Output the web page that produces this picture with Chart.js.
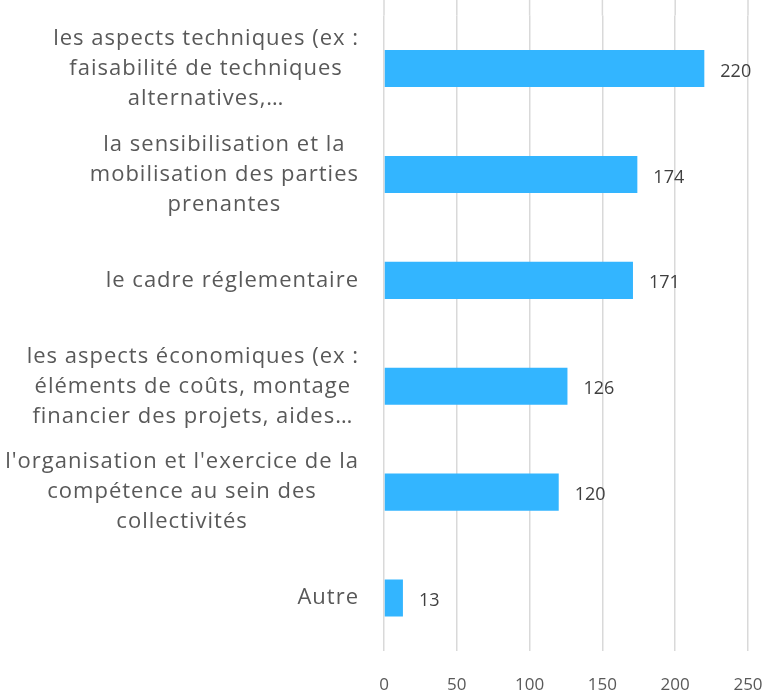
<!DOCTYPE html>
<html lang="fr">
<head>
    <meta charset="UTF-8">
    <title>Besoins</title>
    <script src="https://cdn.jsdelivr.net/npm/chart.js"></script>
    <style>
        html, body { margin: 0; padding: 0; background: #fff; }
        #wrap { width: 768px; height: 693px; }
    </style>
</head>
<body>
<div id="wrap"><canvas id="barChart" width="768" height="693"></canvas></div>
<script>
    // données
    const categories = [
        ["les aspects techniques (ex :", "faisabilité de techniques", "alternatives,…"],
        ["la sensibilisation et la", "mobilisation des parties", "prenantes"],
        ["le cadre réglementaire"],
        ["les aspects économiques (ex :", "éléments de coûts, montage", "financier des projets, aides…"],
        ["l'organisation et l'exercice de la", "compétence au sein des", "collectivités"],
        ["Autre"]
    ];
    const values = [220, 174, 171, 126, 120, 13];
    const xTicks = [0, 50, 100, 150, 200, 250];

    const fontName = "'Open Sans', sans-serif";
    const textGray = '#595959';
    const gridGray = '#D9D9D9';

    // prolonge le quadrillage jusqu'en haut du canvas
    const gridTop = {
        id: 'gridTop',
        beforeDatasetsDraw(chart) {
            const ctx = chart.ctx, xs = chart.scales.x;
            ctx.save();
            ctx.strokeStyle = gridGray;
            ctx.lineWidth = 1.5;
            xs.ticks.forEach(t => {
                const x = xs.getPixelForValue(t.value);
                ctx.beginPath();
                ctx.moveTo(x, 0);
                ctx.lineTo(x, chart.chartArea.top);
                ctx.stroke();
            });
            ctx.restore();
        }
    };

    // libellés de catégories : bloc aligné à droite, lignes centrées
    const catLabels = {
        id: 'catLabels',
        afterDraw(chart) {
            const ctx = chart.ctx, ys = chart.scales.y;
            ctx.save();
            ctx.font = '22px ' + fontName;
            ctx.letterSpacing = '1px';
            ctx.fillStyle = textGray;
            ctx.textAlign = 'center';
            ctx.textBaseline = 'middle';
            const right = 359, lineH = 30;
            categories.forEach((lines, i) => {
                const y = ys.getPixelForValue(i);
                let w = 0;
                lines.forEach(l => { w = Math.max(w, ctx.measureText(l).width); });
                const cx = right - w / 2;
                const y0 = y - (lines.length - 1) * lineH / 2;
                lines.forEach((l, k) => ctx.fillText(l, cx, y0 + k * lineH));
            });
            ctx.restore();
        }
    };

    // étiquettes de valeurs
    const valueLabels = {
        id: 'valueLabels',
        afterDatasetsDraw(chart) {
            const ctx = chart.ctx, xs = chart.scales.x, ys = chart.scales.y;
            ctx.save();
            ctx.font = '18px ' + fontName;
            ctx.fillStyle = '#404040';
            ctx.textAlign = 'left';
            ctx.textBaseline = 'middle';
            values.forEach((v, i) => {
                ctx.fillText(String(v), xs.getPixelForValue(v) + 16, ys.getPixelForValue(i) + 3);
            });
            ctx.restore();
        }
    };

    new Chart(document.getElementById('barChart').getContext('2d'), {
        type: 'bar',
        data: {
            labels: categories,
            datasets: [{
                data: values,
                backgroundColor: '#33B5FF',
                borderWidth: 0,
                categoryPercentage: 1,
                barPercentage: 0.35
            }]
        },
        options: {
            indexAxis: 'y',
            responsive: false,
            devicePixelRatio: 1,
            animation: false,
            layout: { padding: { top: 10, right: 20, bottom: 0, left: 0 } },
            plugins: { legend: { display: false }, tooltip: { enabled: false } },
            scales: {
                x: {
                    min: 0,
                    max: 250,
                    afterBuildTicks(scale) { scale.ticks = xTicks.map(v => ({ value: v })); },
                    afterFit(scale) { scale.height = 42; scale.paddingRight = 0; scale.paddingLeft = 0; },
                    grid: { color: gridGray, lineWidth: 1.5, drawTicks: false },
                    border: { display: false },
                    ticks: { padding: 24, color: textGray, font: { family: fontName, size: 17 } }
                },
                y: {
                    afterFit(scale) { scale.width = 384; },
                    grid: { display: false },
                    border: { display: false },
                    ticks: { color: 'rgba(0,0,0,0)', font: { family: fontName, size: 21 } }
                }
            }
        },
        plugins: [gridTop, catLabels, valueLabels]
    });
</script>
</body>
</html>
